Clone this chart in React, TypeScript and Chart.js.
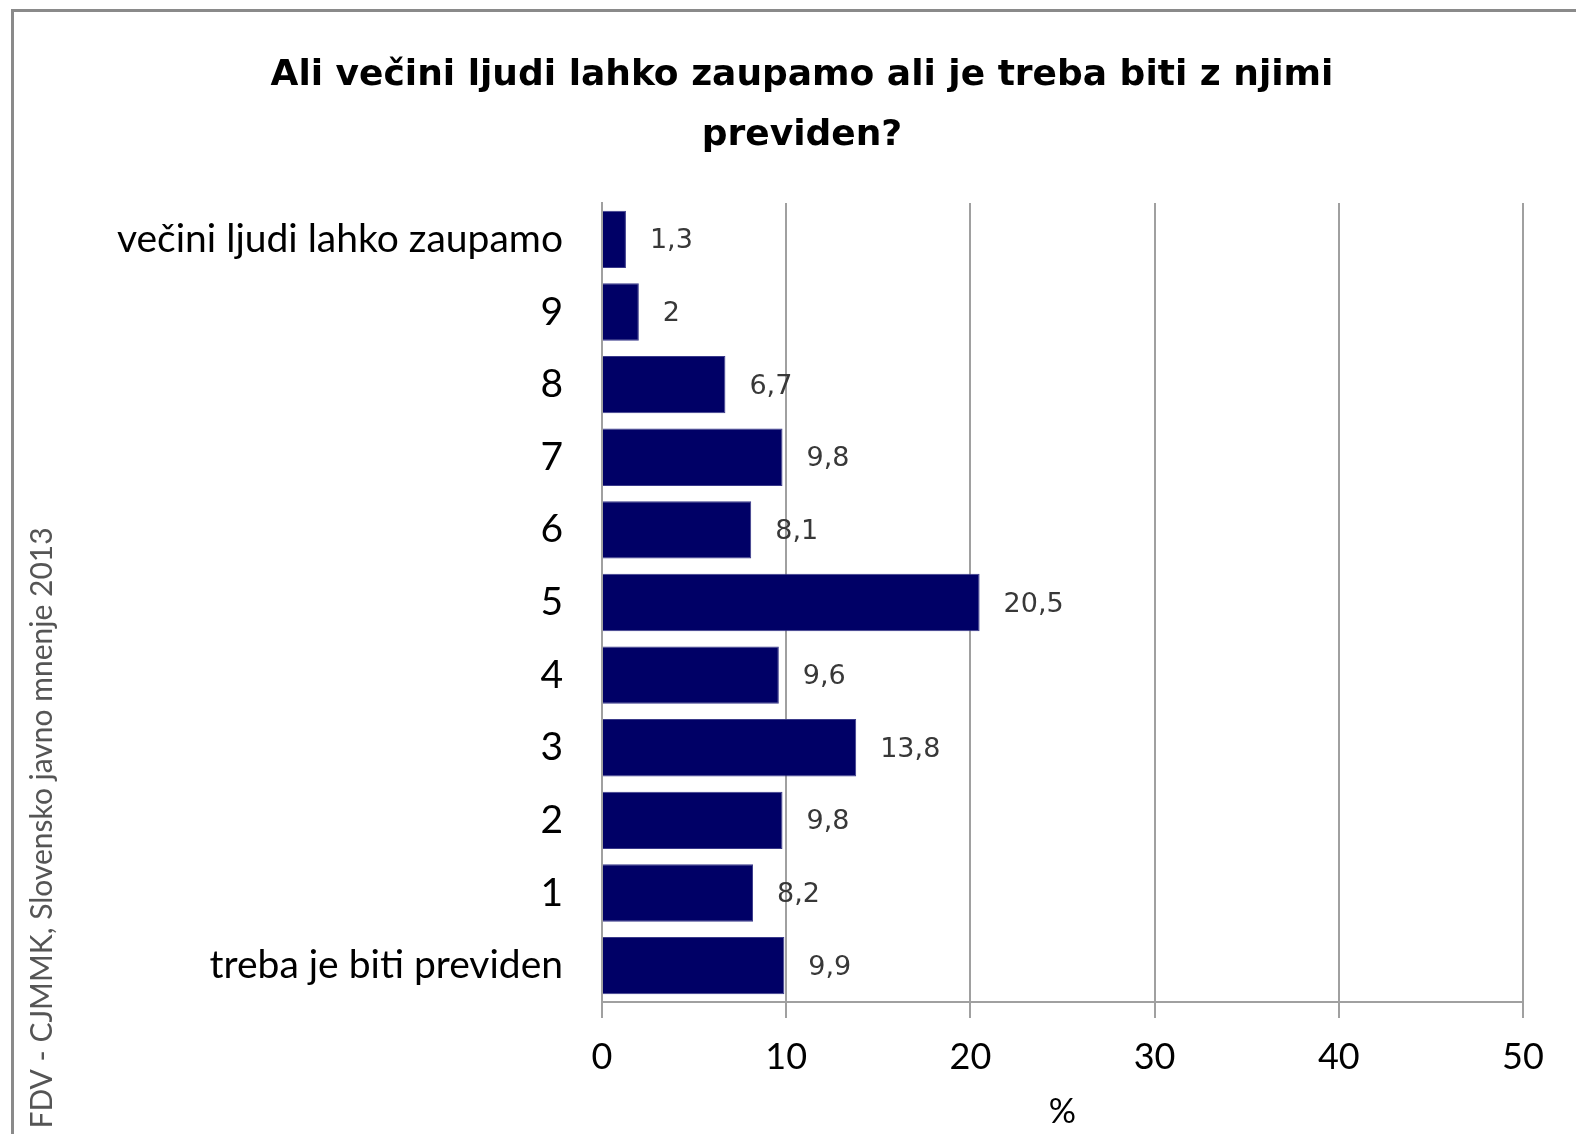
import React, { useEffect, useRef } from "react";
import { Chart, registerables } from "chart.js";

Chart.register(...registerables);

const categories = [
  "večini ljudi lahko zaupamo",
  "9",
  "8",
  "7",
  "6",
  "5",
  "4",
  "3",
  "2",
  "1",
  "treba je biti previden",
];
const values = [1.3, 2, 6.7, 9.8, 8.1, 20.5, 9.6, 13.8, 9.8, 8.2, 9.9];
const xMin = 0;
const xMax = 50;
const xStep = 10;
const titleLines = ["Ali večini ljudi lahko zaupamo ali je treba biti z njimi", "previden?"];
const xAxisTitle = "%";
const sourceText = "FDV - CJMMK, Slovensko javno mnenje 2013";

const W = 1576;
const H = 1134;

const bgPlugin = {
  id: "bgFrame",
  beforeDraw(chart: any) {
    const ctx = chart.ctx;
    ctx.save();
    ctx.fillStyle = "#ffffff";
    ctx.fillRect(0, 0, chart.width, chart.height);
    ctx.strokeStyle = "#8a8a8a";
    ctx.lineWidth = 3;
    ctx.beginPath();
    ctx.moveTo(12.5, H);
    ctx.lineTo(12.5, 10.5);
    ctx.lineTo(W, 10.5);
    ctx.stroke();
    ctx.restore();
  },
};

const labelPlugin = {
  id: "valueLabels",
  afterDatasetsDraw(chart: any) {
    const ctx = chart.ctx;
    const meta = chart.getDatasetMeta(0);
    ctx.save();
    ctx.font = "27px 'DejaVu Sans'";
    ctx.fillStyle = "#383838";
    ctx.textAlign = "left";
    ctx.textBaseline = "middle";
    meta.data.forEach((bar: any, i: number) => {
      const txt = String(values[i]).replace(".", ",");
      ctx.fillText(txt, bar.x + 24, bar.y + 2);
    });
    ctx.restore();
  },
};

const sourcePlugin = {
  id: "sourceText",
  afterDraw(chart: any) {
    const ctx = chart.ctx;
    ctx.save();
    ctx.translate(42, 828);
    ctx.rotate(-Math.PI / 2);
    ctx.font = "30px Lato";
    ctx.fillStyle = "#555555";
    ctx.textAlign = "center";
    ctx.textBaseline = "middle";
    ctx.fillText(sourceText, 0, 0);
    ctx.restore();
  },
};

export default function App() {
  const ref = useRef<HTMLCanvasElement>(null);

  useEffect(() => {
    if (!ref.current) return;
    const chart = new Chart(ref.current, {
      type: "bar",
      data: {
        labels: categories,
        datasets: [
          {
            data: values,
            backgroundColor: "#000066",
            borderColor: "#3a3a8a",
            borderWidth: 1,
            categoryPercentage: 1,
            barPercentage: 0.79,
          },
        ],
      },
      options: {
        indexAxis: "y",
        responsive: false,
        animation: false,
        layout: { padding: { left: 81, right: 53, top: 0, bottom: 0 } },
        plugins: {
          legend: { display: false },
          tooltip: { enabled: false },
          title: {
            display: true,
            text: titleLines,
            color: "#000000",
            font: { family: "'DejaVu Sans'", weight: "bold", size: 36, lineHeight: 60 / 36 },
            padding: { top: 46, bottom: 37 },
          },
        },
        scales: {
          x: {
            type: "linear",
            min: xMin,
            max: xMax,
            ticks: {
              stepSize: xStep,
              color: "#000000",
              font: { family: "Lato", size: 36 },
              padding: 18,
            },
            grid: { color: "#a0a0a0", lineWidth: 2, tickLength: 16, drawTicks: true },
            border: { display: true, color: "#a0a0a0", width: 2 },
            title: {
              display: true,
              text: xAxisTitle,
              color: "#000000",
              font: { family: "Lato", size: 34 },
              padding: { top: 0, bottom: 2 },
            },
            afterFit(scale: any) {
              scale.height = 132;
            },
          },
          y: {
            type: "category",
            grid: { display: false, drawTicks: false },
            border: { display: true, color: "#a0a0a0", width: 2 },
            ticks: {
              color: "#000000",
              font: { family: "Lato", size: 39 },
              padding: 39,
            },
            afterFit(scale: any) {
              scale.width = 521;
            },
          },
        },
      },
      plugins: [bgPlugin, labelPlugin, sourcePlugin],
    } as any);
    return () => chart.destroy();
  }, []);

  return (
    <div style={{ position: "absolute", left: 0, top: 0, width: W, height: H }}>
      <canvas ref={ref} width={W} height={H} style={{ display: "block", width: W, height: H }} />
    </div>
  );
}
